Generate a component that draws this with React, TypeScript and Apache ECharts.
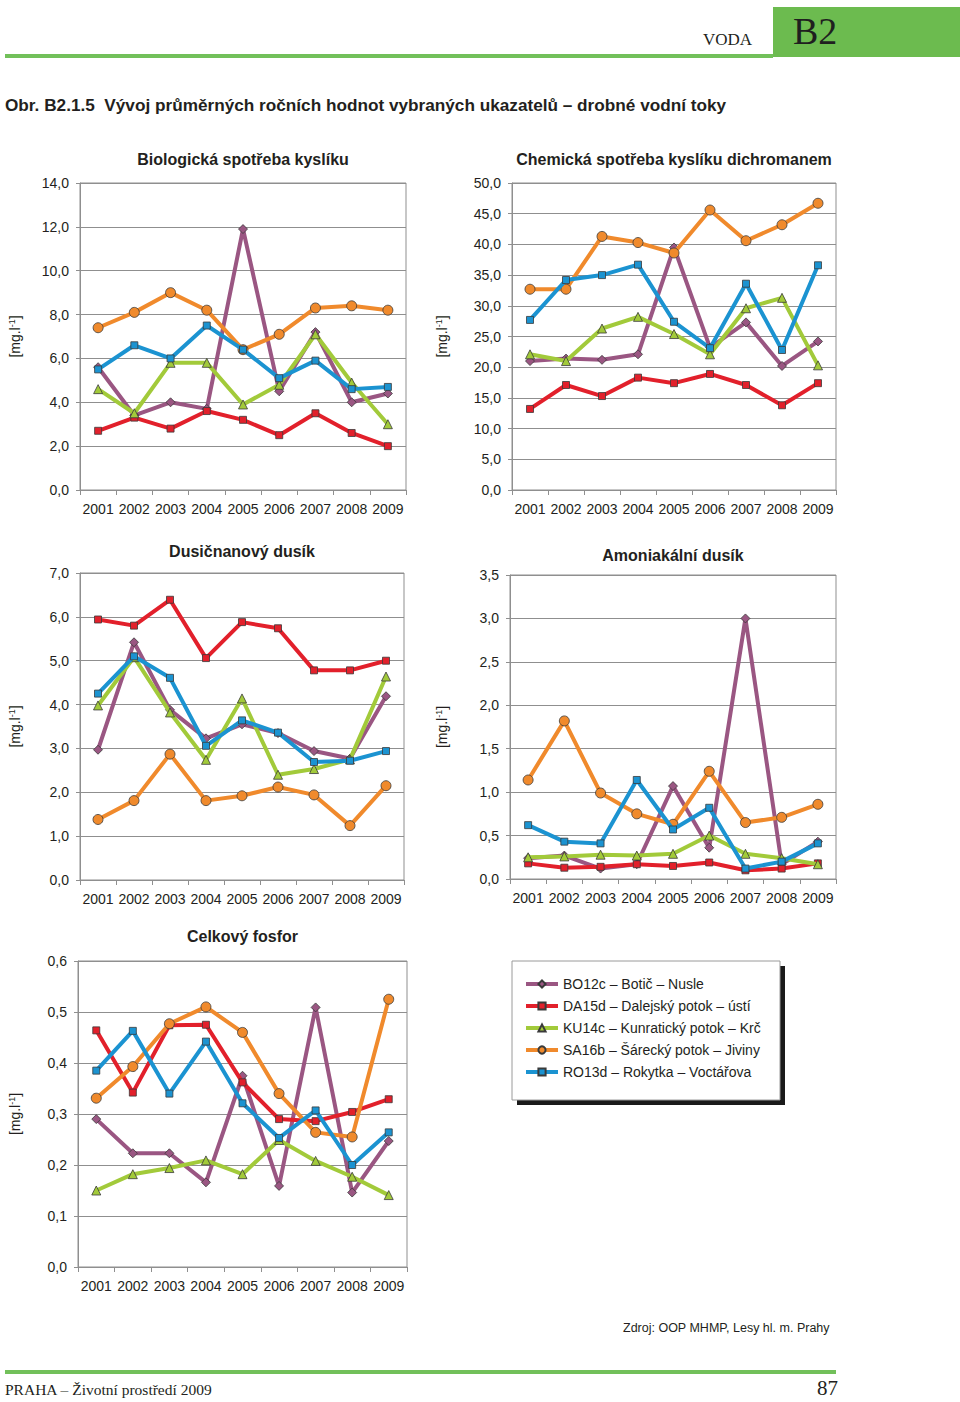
import React, { useEffect, useRef } from 'react';
import * as echarts from 'echarts';

const YEARS = ['2001', '2002', '2003', '2004', '2005', '2006', '2007', '2008', '2009'];
const STATIONS = [
  'BO12c – Botič – Nusle',
  'DA15d – Dalejský potok – ústí',
  'KU14c – Kunratický potok – Krč',
  'SA16b – Šárecký potok – Jiviny',
  'RO13d – Rokytka – Voctářova',
];

// Biologická spotřeba kyslíku
const bsk_BO12c = [5.6, 3.4, 4.0, 3.7, 11.9, 4.5, 7.2, 4.0, 4.4];
const bsk_DA15d = [2.7, 3.3, 2.8, 3.6, 3.2, 2.5, 3.5, 2.6, 2.0];
const bsk_KU14c = [4.6, 3.5, 5.8, 5.8, 3.9, 4.8, 7.1, 4.9, 3.0];
const bsk_SA16b = [7.4, 8.1, 9.0, 8.2, 6.4, 7.1, 8.3, 8.4, 8.2];
const bsk_RO13d = [5.5, 6.6, 6.0, 7.5, 6.4, 5.1, 5.9, 4.6, 4.7];

// Chemická spotřeba kyslíku dichromanem
const chsk_BO12c = [21.0, 21.4, 21.2, 22.1, 39.5, 23.2, 27.3, 20.2, 24.2];
const chsk_DA15d = [13.2, 17.1, 15.3, 18.3, 17.4, 18.9, 17.1, 13.8, 17.4];
const chsk_KU14c = [22.1, 21.0, 26.3, 28.2, 25.4, 22.1, 29.6, 31.3, 20.3];
const chsk_SA16b = [32.7, 32.7, 41.3, 40.3, 38.6, 45.6, 40.6, 43.2, 46.7];
const chsk_RO13d = [27.7, 34.2, 35.0, 36.7, 27.4, 23.1, 33.6, 22.8, 36.6];

// Dusičnanový dusík
const no3_BO12c = [2.97, 5.42, 3.88, 3.23, 3.55, 3.35, 2.94, 2.77, 4.19];
const no3_DA15d = [5.94, 5.80, 6.39, 5.06, 5.88, 5.74, 4.78, 4.78, 5.00];
const no3_KU14c = [3.98, 5.08, 3.82, 2.74, 4.14, 2.40, 2.53, 2.75, 4.64];
const no3_SA16b = [1.38, 1.81, 2.87, 1.81, 1.92, 2.12, 1.94, 1.24, 2.15];
const no3_RO13d = [4.25, 5.10, 4.61, 3.06, 3.64, 3.36, 2.69, 2.72, 2.94];

// Amoniakální dusík
const nh4_BO12c = [0.24, 0.27, 0.12, 0.17, 1.07, 0.36, 3.00, 0.17, 0.43];
const nh4_DA15d = [0.18, 0.13, 0.14, 0.17, 0.15, 0.19, 0.10, 0.12, 0.18];
const nh4_KU14c = [0.25, 0.26, 0.28, 0.27, 0.29, 0.50, 0.29, 0.24, 0.17];
const nh4_SA16b = [1.14, 1.82, 0.99, 0.75, 0.63, 1.24, 0.65, 0.71, 0.86];
const nh4_RO13d = [0.62, 0.43, 0.41, 1.14, 0.57, 0.82, 0.12, 0.20, 0.41];

// Celkový fosfor
const p_BO12c = [0.290, 0.223, 0.223, 0.166, 0.375, 0.159, 0.509, 0.146, 0.247];
const p_DA15d = [0.464, 0.342, 0.474, 0.475, 0.362, 0.290, 0.286, 0.304, 0.329];
const p_KU14c = [0.150, 0.182, 0.194, 0.209, 0.182, 0.249, 0.208, 0.177, 0.141];
const p_SA16b = [0.331, 0.393, 0.477, 0.510, 0.460, 0.340, 0.264, 0.255, 0.525];
const p_RO13d = [0.385, 0.463, 0.340, 0.442, 0.321, 0.253, 0.307, 0.200, 0.264];

const CHART_TITLES = [
  'Biologická spotřeba kyslíku',
  'Chemická spotřeba kyslíku dichromanem',
  'Dusičnanový dusík',
  'Amoniakální dusík',
  'Celkový fosfor',
];
const Y_MAX = [14, 50, 7, 3.5, 0.6];
const Y_STEP = [2, 5, 1, 0.5, 0.1];
const CHART_DATA = [
  [bsk_BO12c, bsk_DA15d, bsk_KU14c, bsk_SA16b, bsk_RO13d],
  [chsk_BO12c, chsk_DA15d, chsk_KU14c, chsk_SA16b, chsk_RO13d],
  [no3_BO12c, no3_DA15d, no3_KU14c, no3_SA16b, no3_RO13d],
  [nh4_BO12c, nh4_DA15d, nh4_KU14c, nh4_SA16b, nh4_RO13d],
  [p_BO12c, p_DA15d, p_KU14c, p_SA16b, p_RO13d],
];

// styles / layout
const COLORS = ['#9a5682', '#e2202b', '#a2ca3a', '#f08a2c', '#1b93d1'];
const SYMBOLS = ['diamond', 'rect', 'triangle', 'circle', 'rect'];
const SYMBOL_SIZES = [9, 7, 9, 10, 7];
const GRIDS = [
  { left: 80, top: 183, width: 326, height: 307 },
  { left: 512, top: 183, width: 324, height: 307 },
  { left: 80, top: 573, width: 324, height: 307 },
  { left: 510, top: 575, width: 326, height: 304 },
  { left: 78, top: 961, width: 329, height: 306 },
];
const TITLE_Y = [151, 151, 543, 547, 928];
const NAME_GAP = [58, 63, 58, 61, 56];

const SANS = '"Liberation Sans", Arial, sans-serif';
const SERIF = '"Liberation Serif", "Times New Roman", serif';
const GREEN = '#6cbb4f';

function fmt(v: number) {
  return v.toFixed(1).replace('.', ',');
}

export default function App() {
  const ref = useRef<HTMLDivElement>(null);
  useEffect(() => {
    if (!ref.current) return;
    const chart = echarts.init(ref.current, null, { renderer: 'svg' });

    const grid = GRIDS.map((g) => ({
      ...g,
      show: true,
      borderColor: '#8f8f8f',
      borderWidth: 1,
      backgroundColor: 'transparent',
    }));
    const xAxis = GRIDS.map((_, i) => ({
      type: 'category',
      gridIndex: i,
      data: YEARS,
      boundaryGap: true,
      axisLine: { lineStyle: { color: '#8f8f8f', width: 1 } },
      axisTick: { show: true, length: 5, lineStyle: { color: '#8f8f8f' } },
      axisLabel: { interval: 0, fontSize: 14, color: '#231f20', fontFamily: SANS, margin: 12 },
    }));
    const yAxis = GRIDS.map((_, i) => ({
      type: 'value',
      gridIndex: i,
      min: 0,
      max: Y_MAX[i],
      interval: Y_STEP[i],
      name: '[mg.l{sup|-1}]',
      nameLocation: 'middle',
      nameRotate: 90,
      nameGap: NAME_GAP[i],
      nameTextStyle: {
        fontSize: 14,
        color: '#231f20',
        fontFamily: SANS,
        rich: {
          sup: { fontSize: 9, color: '#231f20', fontFamily: SANS, verticalAlign: 'top', padding: [0, 0, 6, 0] },
        },
      },
      axisLine: { show: true, lineStyle: { color: '#8f8f8f', width: 1 } },
      axisTick: { show: true, length: 4, lineStyle: { color: '#8f8f8f' } },
      axisLabel: { fontSize: 14, color: '#231f20', fontFamily: SANS, margin: 11, formatter: (v: number) => fmt(v) },
      splitLine: { show: true, lineStyle: { color: '#8f8f8f', width: 1 } },
    }));
    const series: any[] = [];
    CHART_DATA.forEach((set, ci) => {
      set.forEach((vals, si) => {
        series.push({
          type: 'line',
          name: STATIONS[si],
          xAxisIndex: ci,
          yAxisIndex: ci,
          data: vals,
          symbol: SYMBOLS[si],
          symbolSize: SYMBOL_SIZES[si],
          showAllSymbol: true,
          lineStyle: { color: COLORS[si], width: 4 },
          itemStyle: { color: COLORS[si], borderColor: '#3a3a3a', borderWidth: 0.8 },
          z: 2 + si,
        });
      });
    });

    const titles = CHART_TITLES.map((t, i) => ({
      text: t,
      left: GRIDS[i].left + GRIDS[i].width / 2,
      top: TITLE_Y[i],
      textAlign: 'center',
      padding: 0,
      textStyle: { fontSize: 16, fontWeight: 'bold', color: '#231f20', fontFamily: SANS },
    }));

    const graphic = [
      // header
      { type: 'rect', shape: { x: 5, y: 54, width: 768, height: 4 }, style: { fill: '#72c05a' } },
      { type: 'rect', shape: { x: 773, y: 7, width: 187, height: 50 }, style: { fill: GREEN } },
      { type: 'text', x: 703, y: 48, style: { text: 'VODA', font: `17px ${SERIF}`, fill: '#231f20', textVerticalAlign: 'bottom' } },
      { type: 'text', x: 793, y: 50, style: { text: 'B2', font: `38px ${SERIF}`, fill: '#1f1f1f', textVerticalAlign: 'bottom' } },
      // figure title
      {
        type: 'text', x: 5, y: 105,
        style: { text: 'Obr. B2.1.5  Vývoj průměrných ročních hodnot vybraných ukazatelů – drobné vodní toky', font: `bold 17.2px ${SANS}`, fill: '#231f20', textVerticalAlign: 'middle' },
      },
      // legend box
      { type: 'rect', z: 5, shape: { x: 517, y: 966, width: 268, height: 139 }, style: { fill: '#1a1a1a' } },
      { type: 'rect', z: 5, shape: { x: 512, y: 961, width: 268, height: 139 }, style: { fill: '#ffffff', stroke: '#9a9a9a', lineWidth: 1 } },
      // footer
      { type: 'text', x: 623, y: 1328, style: { text: 'Zdroj: OOP MHMP, Lesy hl. m. Prahy', font: `12.5px ${SANS}`, fill: '#231f20', textVerticalAlign: 'middle' } },
      { type: 'rect', shape: { x: 5, y: 1370, width: 831, height: 4 }, style: { fill: '#72c05a' } },
      { type: 'text', x: 5, y: 1397, style: { text: 'PRAHA – Životní prostředí 2009', font: `15.5px ${SERIF}`, fill: '#231f20', textVerticalAlign: 'bottom' } },
      { type: 'text', x: 838, y: 1398, style: { text: '87', font: `21px ${SERIF}`, fill: '#231f20', textAlign: 'right', textVerticalAlign: 'bottom' } },
    ];

    chart.setOption({
      animation: false,
      backgroundColor: '#ffffff',
      title: titles,
      grid,
      xAxis,
      yAxis,
      series,
      legend: {
        data: STATIONS,
        orient: 'vertical',
        left: 519,
        top: 972,
        z: 20,
        itemWidth: 32,
        itemHeight: 9,
        itemGap: 8,
        lineStyle: { width: 4 },
        textStyle: { fontSize: 14, color: '#231f20', fontFamily: SANS, lineHeight: 14 },
        selectedMode: false,
      },
      graphic,
    });
    return () => chart.dispose();
  }, []);
  return <div ref={ref} style={{ position: 'absolute', left: 0, top: 0, width: 960, height: 1402 }} />;
}
